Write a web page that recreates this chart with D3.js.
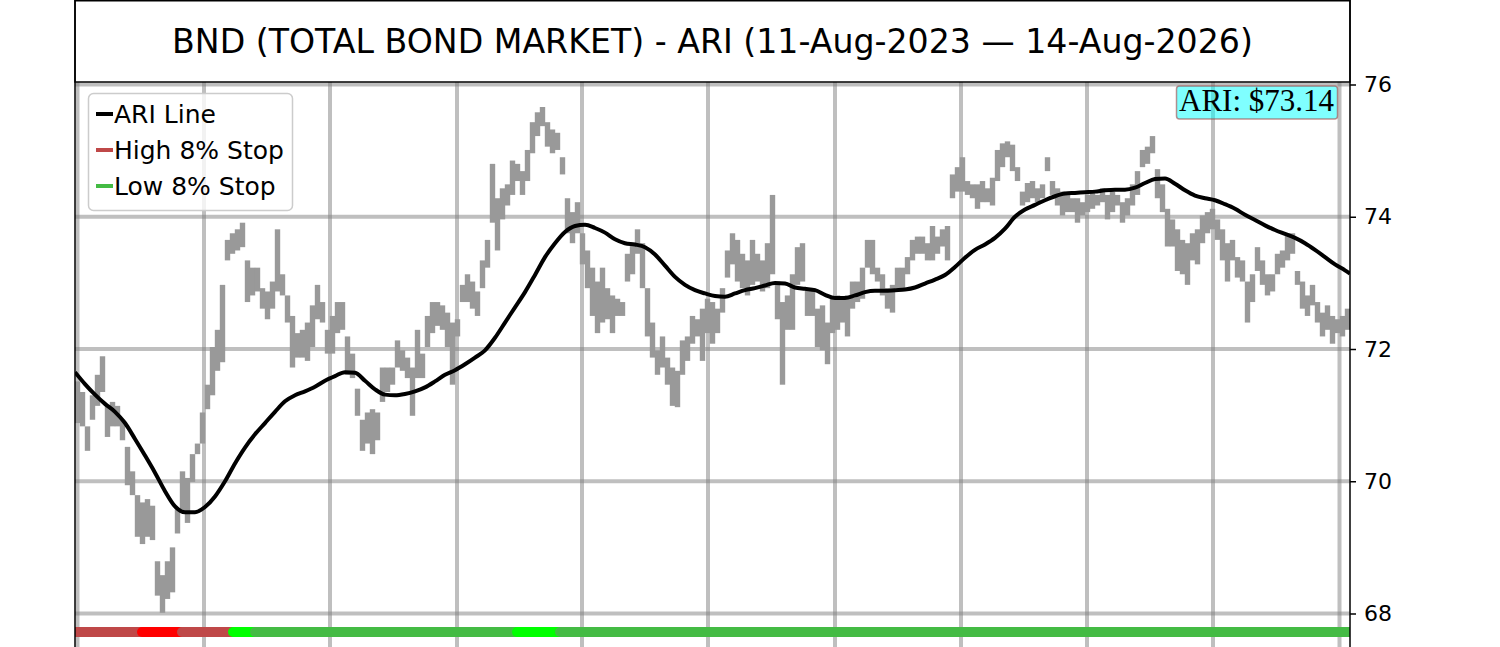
<!DOCTYPE html>
<html><head><meta charset="utf-8">
<script src="https://cdn.jsdelivr.net/npm/d3@7"></script>
<style>body{margin:0;background:#fff}svg{display:block}</style>
</head><body>
<svg id="chart" width="1500" height="647"></svg>
<script>
// ---------- DATA ----------
const titleText = "BND (TOTAL BOND MARKET) - ARI (11-Aug-2023 \u2014 14-Aug-2026)";
const ariLabel = "ARI: $73.14";
const legendLabels = ["ARI Line", "High 8% Stop", "Low 8% Stop"];
const yTicks = [68, 70, 72, 74, 76];
// vertical grid positions, in bar-index units
const gridTicks = [0, 25.3, 50.5, 75.9, 100.9, 126.1, 151.5, 176.7, 201.9, 227.1, 252.4];

// price range bars (low / high), one per bar index
const barLow = [
70.88,70.83,70.46,70.93,71.14,71.35,70.67,70.83,70.83,70.62,
69.94,69.79,69.16,69.05,69.16,69.11,68.27,68.01,68.22,68.32,
69.21,69.52,69.37,69.99,70.41,70.57,71.09,71.30,71.67,71.80,
73.34,73.44,73.49,73.54,72.71,72.81,72.87,72.61,72.45,72.61,
72.87,72.81,72.40,
71.72,71.87,71.87,71.82,72.03,72.45,72.40,71.93,71.93,72.24,
72.29,71.61,71.56,70.99,70.46,70.57,70.41,70.62,71.20,71.35,
71.46,71.72,71.67,71.56,70.99,71.56,71.56,72.03,72.24,72.35,
72.29,72.03,71.46,72.19,72.71,72.71,72.61,72.50,72.92,73.23,
73.91,73.49,
73.96,74.17,74.33,74.54,74.33,74.54,74.96,75.22,75.37,75.06,
74.96,75.01,74.64,73.75,73.60,73.75,73.28,72.92,72.50,72.24,
72.40,72.45,72.24,72.50,72.50,73.02,73.13,73.44,72.92,72.19,
71.87,71.61,71.72,71.46,71.14,71.12,71.61,71.82,72.08,72.19,
71.82,72.24,
72.08,72.24,72.55,73.08,73.28,73.02,72.92,72.81,72.97,73.02,
72.87,72.92,73.13,72.45,71.46,72.29,72.29,72.97,73.02,72.50,
72.50,72.03,71.98,71.77,72.24,72.29,72.40,72.19,72.61,72.71,
72.76,73.23,73.13,73.02,72.81,72.61,72.55,72.92,72.92,73.13,
73.34,73.44,
73.44,73.34,73.34,73.44,73.55,73.34,74.28,74.38,74.38,74.33,
74.28,74.12,74.22,74.22,74.17,74.54,74.75,74.90,74.69,74.54,
74.17,74.22,74.28,74.22,74.28,74.69,74.33,74.17,74.02,74.07,
74.07,73.91,74.02,74.07,74.12,74.17,74.22,73.96,74.07,74.17,
73.91,74.02,
74.17,74.33,74.75,74.80,74.96,74.28,74.07,73.55,73.55,73.18,
73.13,72.97,73.34,73.28,73.60,73.75,73.81,73.65,73.34,73.02,
73.34,73.08,73.02,72.40,72.71,73.18,72.97,72.81,72.87,73.13,
73.23,73.34,73.44,72.97,72.61,72.50,72.66,72.40,72.19,72.29,
72.08,72.24,72.19,72.29
];
const barHigh = [
71.51,71.35,70.83,71.30,71.61,71.89,71.14,71.20,71.14,70.93,
70.52,70.15,69.79,69.68,69.73,69.63,68.79,68.58,68.79,69.00,
69.58,70.15,70.05,70.41,70.57,71.04,71.46,72.03,72.29,72.97,
73.65,73.75,73.81,73.91,73.34,73.23,73.23,72.92,72.87,73.02,
73.81,73.13,72.81,
72.50,72.24,72.29,72.40,72.66,72.97,72.71,72.29,72.50,72.71,
72.71,72.19,71.93,71.40,70.93,71.04,71.09,71.04,71.72,71.72,
71.72,72.13,71.98,71.87,71.72,72.29,71.93,72.50,72.71,72.71,
72.66,72.55,72.40,72.45,72.97,73.13,73.02,72.87,73.34,73.65,
74.80,74.28,
74.43,74.49,74.85,74.80,74.69,75.01,75.43,75.58,75.66,75.43,
75.32,75.27,74.90,74.28,74.07,74.22,73.75,73.49,73.23,73.02,
73.23,72.92,72.81,72.76,72.71,73.44,73.60,73.81,73.60,72.92,
72.40,71.98,72.19,71.87,71.72,71.67,72.13,72.19,72.50,72.45,
72.61,72.76,
72.71,72.61,72.92,73.49,73.75,73.65,73.44,73.34,73.65,73.44,
73.34,73.60,74.33,73.02,72.71,72.81,73.13,73.54,73.60,72.92,
72.92,72.61,72.66,72.40,72.76,72.81,72.76,72.81,73.02,73.02,
73.23,73.65,73.65,73.23,73.13,72.92,72.97,73.23,73.23,73.39,
73.65,73.70,
73.70,73.60,73.86,73.70,73.81,73.86,74.64,74.75,74.90,74.54,
74.49,74.49,74.54,74.43,74.59,75.01,75.11,75.14,75.09,74.75,
74.38,74.51,74.54,74.43,74.49,74.90,74.54,74.43,74.38,74.33,
74.28,74.28,74.22,74.33,74.38,74.33,74.43,74.33,74.38,74.33,
74.22,74.28,
74.49,74.69,75.01,75.06,75.22,74.72,74.49,74.12,73.96,73.81,
73.65,73.60,73.75,73.81,74.02,74.07,74.12,73.96,73.81,73.60,
73.65,73.39,73.34,73.02,73.13,73.54,73.34,73.13,73.13,73.44,
73.49,73.75,73.75,73.18,73.02,72.81,72.97,72.71,72.55,72.66,
72.50,72.45,72.50,72.61
];

// ARI line, sampled every 2 bars (last point at the right edge)
const ariValues = [
71.65,71.47,71.31,71.17,71.05,70.88,70.64,70.39,70.13,69.85,
69.62,69.53,69.53,69.61,69.77,70.00,70.27,70.51,70.71,70.88,
71.05,71.21,71.30,71.36,71.43,71.52,71.59,71.65,71.64,71.52,
71.39,71.31,71.30,71.32,71.36,71.42,71.51,71.61,71.68,71.77,
71.87,71.98,72.17,72.40,72.63,72.86,73.12,73.39,73.60,73.77,
73.86,73.88,73.83,73.76,73.66,73.60,73.58,73.54,73.43,73.26,
73.09,72.97,72.89,72.84,72.80,72.79,72.84,72.89,72.92,72.96,
73.00,72.99,72.93,72.91,72.89,72.82,72.77,72.77,72.81,72.86,
72.88,72.88,72.89,72.90,72.93,72.99,73.05,73.12,73.24,73.38,
73.50,73.58,73.68,73.82,74.00,74.11,74.18,74.25,74.31,74.35,
74.36,74.37,74.38,74.40,74.41,74.41,74.44,74.51,74.57,74.58,
74.50,74.40,74.32,74.28,74.25,74.19,74.12,74.03,73.95,73.87,
73.80,73.74,73.68,73.60,73.50,73.39,73.28,73.19,73.14
];

// stop status strip (bar-index units), drawn in order
const stopFrom = [-0.5, 12.9, 20.9, 31.1, 35.5, 87.9, 96.5];
const stopTo   = [12.9, 20.9, 31.1, 35.5, 87.9, 96.5, 254.5];
const stopKind = ["high", "highHit", "high", "lowHit", "low", "lowHit", "low"];
const stopLevel = 67.72;

// ---------- DRAW ----------
const colors = {ari: "#000000", high: "#bf4848", highHit: "#ff0000", low: "#44bb44", lowHit: "#00ff00", bar: "#999999"};
const svg = d3.select("#chart");
const L = 75, R = 1350, T = 82, B = 647;

const x = d3.scaleLinear().domain([-0.5, 254.5]).range([L, R]);
const y = d3.scaleLinear().domain([68, 76]).range([613.5, 84.5]);

svg.append("defs").append("clipPath").attr("id", "plotclip")
  .append("rect").attr("x", L).attr("y", T).attr("width", R - L).attr("height", B - T + 10);

const plot = svg.append("g").attr("clip-path", "url(#plotclip)");

// grid
plot.append("g").selectAll("line").data(yTicks).join("line")
  .attr("x1", L).attr("x2", R).attr("y1", d => y(d)).attr("y2", d => y(d))
  .attr("stroke", "#808080").attr("stroke-opacity", 0.5).attr("stroke-width", 4);
plot.append("g").selectAll("line").data(gridTicks).join("line")
  .attr("x1", d => x(d)).attr("x2", d => x(d)).attr("y1", T).attr("y2", B)
  .attr("stroke", "#808080").attr("stroke-opacity", 0.5).attr("stroke-width", 4);

// price bars
plot.append("g").selectAll("line").data(barLow.map((lo, i) => ({i, lo, hi: barHigh[i]}))).join("line")
  .attr("x1", d => x(d.i)).attr("x2", d => x(d.i))
  .attr("y1", d => y(d.lo)).attr("y2", d => y(d.hi))
  .attr("stroke", colors.bar).attr("stroke-width", 5.4);

// ARI line
const ariPts = ariValues.map((v, j) => [Math.min(2 * j - 0.5, 254.5), v]);
plot.append("path").datum(ariPts)
  .attr("d", d3.line().x(d => x(d[0])).y(d => y(d[1])).curve(d3.curveMonotoneX))
  .attr("fill", "none").attr("stroke", colors.ari).attr("stroke-width", 4).attr("stroke-linejoin", "round");

// stop strip
stopFrom.forEach((f, k) => {
  plot.append("line")
    .attr("x1", x(f)).attr("x2", x(stopTo[k]))
    .attr("y1", y(stopLevel)).attr("y2", y(stopLevel))
    .attr("stroke", colors[stopKind[k]]).attr("stroke-width", 10).attr("stroke-linecap", "round");
});

// title box
svg.append("rect").attr("x", L).attr("y", 0.75).attr("width", R - L).attr("height", T - 0.75)
  .attr("fill", "#fff").attr("stroke", "#000").attr("stroke-width", 1.5);
svg.append("text").attr("x", (L + R) / 2).attr("y", 53).attr("text-anchor", "middle")
  .attr("font-family", "DejaVu Sans").attr("font-size", 33.2).attr("fill", "#000").text(titleText);

// axes spines
svg.append("line").attr("x1", L).attr("x2", L).attr("y1", 0).attr("y2", B).attr("stroke", "#000").attr("stroke-width", 1.5);
svg.append("line").attr("x1", R).attr("x2", R).attr("y1", 0).attr("y2", B).attr("stroke", "#000").attr("stroke-width", 1.5);

// right y axis
const yAxis = d3.axisRight(y).tickValues(yTicks).tickSize(6).tickPadding(8).tickFormat(d3.format("d"));
const ag = svg.append("g").attr("transform", `translate(${R},0)`).call(yAxis);
ag.select(".domain").remove();
ag.selectAll("line").attr("stroke", "#000").attr("stroke-width", 1.5);
ag.selectAll("text").attr("font-family", "DejaVu Sans").attr("font-size", 22).attr("fill", "#000");

// legend
const lg = svg.append("g");
lg.append("rect").attr("x", 88.5).attr("y", 93.5).attr("width", 204).attr("height", 117).attr("rx", 5)
  .attr("fill", "#fff").attr("fill-opacity", 0.8).attr("stroke", "#cccccc").attr("stroke-width", 1.5);
const legColors = [colors.ari, colors.high, colors.low];
legendLabels.forEach((t, k) => {
  const cy = 114 + k * 36;
  lg.append("line").attr("x1", 96).attr("x2", 113).attr("y1", cy).attr("y2", cy)
    .attr("stroke", legColors[k]).attr("stroke-width", 4);
  lg.append("text").attr("x", 114).attr("y", cy + 8.5).attr("font-family", "DejaVu Sans")
    .attr("font-size", 25).attr("fill", "#000").text(t);
});

// ARI value label
const lbl = svg.append("g");
lbl.append("rect").attr("x", 1176.5).attr("y", 86).attr("width", 161).attr("height", 33).attr("rx", 3)
  .attr("fill", "#00ffff").attr("fill-opacity", 0.5).attr("stroke", "#a04848").attr("stroke-opacity", 0.6).attr("stroke-width", 1.5);
lbl.append("text").attr("x", 1334).attr("y", 111).attr("text-anchor", "end")
  .attr("font-family", "Liberation Serif").attr("font-size", 31).attr("fill", "#000").text(ariLabel);
</script>
</body></html>
